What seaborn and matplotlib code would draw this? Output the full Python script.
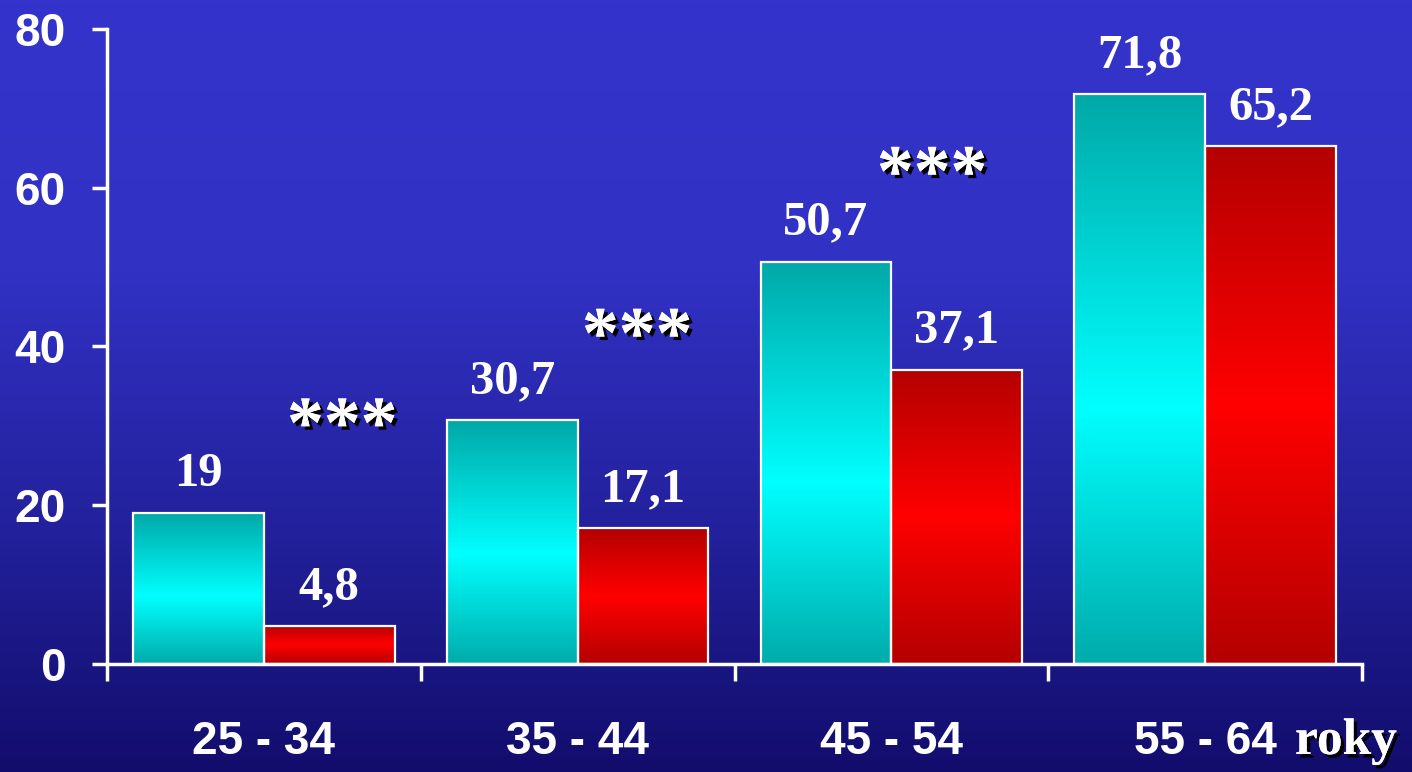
import numpy as np
import pandas as pd
import matplotlib
matplotlib.use("Agg")
import matplotlib.pyplot as plt
import matplotlib.patheffects as pe
from matplotlib.colors import LinearSegmentedColormap
import seaborn as sns

# ---- data ----
categories = ["25 - 34", "35 - 44", "45 - 54", "55 - 64"]
series_names = ["A", "B"]
values_a = [19.0, 30.7, 50.7, 71.8]
values_b = [4.8, 17.1, 37.1, 65.2]
y_ticks = [0, 20, 40, 60, 80]
star_text = "***"
star_x = [0.25, 1.19, 2.13]
star_y = [29.6, 40.9, 61.3]
unit_label = "roky"

df = pd.DataFrame({
    "cat": categories * 2,
    "series": [series_names[0]] * 4 + [series_names[1]] * 4,
    "val": values_a + values_b,
})

sns.set_theme(style="white")
plt.rcParams["font.family"] = ["Liberation Sans", "DejaVu Sans"]

W, H, DPI = 1412, 772, 100
fig = plt.figure(figsize=(W / DPI, H / DPI), dpi=DPI)

# background gradient
bg_ax = fig.add_axes([0, 0, 1, 1], zorder=-10)
bg_ax.set_axis_off()
bg_cmap = LinearSegmentedColormap.from_list(
    "bg", [(0.0, "#3434cc"), (0.35, "#3131c4"), (0.7, "#22209a"), (1.0, "#120d6c")])
grad = np.linspace(0, 1, 256).reshape(-1, 1)
bg_ax.imshow(grad, aspect="auto", cmap=bg_cmap, extent=[0, 1, 0, 1], origin="upper")

left, right = 107 / W, 1362 / W
bottom, top = (H - 664) / H, (H - 29) / H
ax = fig.add_axes([left, bottom, right - left, top - bottom])
ax.set_facecolor("none")

sns.barplot(data=df, x="cat", y="val", hue="series", order=categories,
            hue_order=series_names, width=0.834, dodge=True, ax=ax,
            legend=False, palette=["#00c8c8", "#e00000"], saturation=1)

cyan_cmap = LinearSegmentedColormap.from_list(
    "cy", [(0.0, "#00a8a8"), (0.55, "#00ffff"), (1.0, "#00abab")])
red_cmap = LinearSegmentedColormap.from_list(
    "rd", [(0.0, "#b40000"), (0.5, "#ff0000"), (1.0, "#b40000")])

for ci, cont in enumerate(ax.containers):
    cmap = cyan_cmap if ci == 0 else red_cmap
    for p in cont:
        x0 = p.get_x()
        w = p.get_width()
        h = p.get_height()
        im = ax.imshow(grad, aspect="auto", cmap=cmap,
                       extent=[x0, x0 + w, 0, h], origin="upper", zorder=2)
        im.set_clip_path(p)
        p.set_facecolor("none")
        p.set_edgecolor("white")
        p.set_linewidth(1.6)
        p.set_zorder(3)
        lbl = ("%g" % h).replace(".", ",")
        ax.text(x0 + w / 2, h + 4.9, lbl, ha="center", va="center",
                color="white", fontsize=35, fontweight="bold",
                family=["Liberation Serif", "DejaVu Serif"], zorder=5)

ax.set_xlim(-0.5, 3.5)
ax.set_ylim(0, 80)

shadow = [pe.withSimplePatchShadow(offset=(2.5, -2.5), shadow_rgbFace="black",
                                   alpha=1.0), pe.Normal()]
for sx, sy in zip(star_x, star_y):
    ax.text(sx, sy, star_text, ha="center", va="center", color="white",
            fontsize=53, fontweight="bold",
            family=["Liberation Serif", "DejaVu Serif"],
            path_effects=shadow, zorder=6)

# spines and ticks
for s in ["top", "right"]:
    ax.spines[s].set_visible(False)
for s in ["left", "bottom"]:
    ax.spines[s].set_color("white")
    ax.spines[s].set_linewidth(2.5)
    ax.spines[s].set_zorder(4)

ax.set_yticks(y_ticks)
ax.set_yticklabels([str(t) for t in y_ticks])
ax.tick_params(axis="y", which="major", length=11, width=2.5, color="white",
               labelcolor="white", labelsize=33, pad=19, left=True)
for t in ax.get_yticklabels():
    t.set_fontweight("bold")

ax.set_xticks([-0.5, 0.5, 1.5, 2.5, 3.5])
ax.set_xticklabels([])
ax.set_xticks(range(len(categories)), minor=True)
ax.set_xticklabels(categories, minor=True)
ax.tick_params(axis="x", which="major", length=12, width=2.5, color="white",
               bottom=True, direction="out")
ax.tick_params(axis="x", which="minor", length=0, labelcolor="white",
               labelsize=33, pad=40)
for t in ax.get_xticklabels(minor=True):
    t.set_fontweight("bold")
ax.set_xlabel("")
ax.set_ylabel("")

fig.text(1295 / W, (H - 742) / H, unit_label, ha="left", va="center",
         color="white", fontsize=37, fontweight="bold",
         family=["Liberation Serif", "DejaVu Serif"], path_effects=shadow)

fig.savefig("out.png", dpi=DPI)
